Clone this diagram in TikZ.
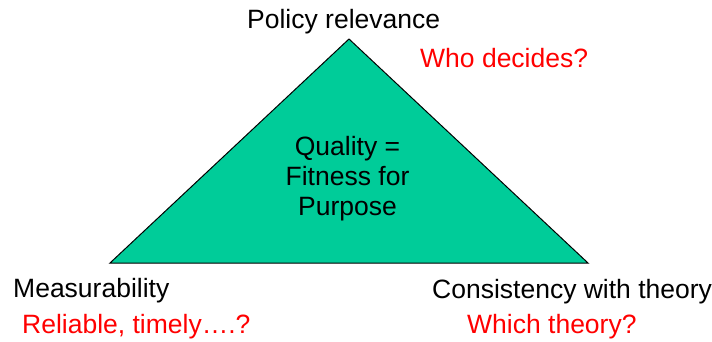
\documentclass[tikz,border=0pt]{standalone}
\usepackage{fontspec}
\setmainfont{Liberation Sans}
\definecolor{fitgreen}{RGB}{0,204,153}

\begin{document}
\begin{tikzpicture}
  [x=1pt,y=-1pt,every node/.style={inner sep=0pt,font=\fontsize{26.5}{30}\selectfont},
   label/.style={anchor=base west},
   question/.style={anchor=base west,text=red}]
  \useasboundingbox (0,0) rectangle (712,342);

  % triangle
  \coordinate (top) at (349,39);
  \coordinate (left) at (110,263);
  \coordinate (right) at (588,263);
  \draw[fill=fitgreen,line width=1pt] (top) -- (left) -- (right) -- cycle;

  \node[align=center,anchor=base] (quality) at (347.5,215) {Quality =\\Fitness for\\Purpose};

  \node[label] (policy) at (247,29) {Policy relevance};
  \node[question] (who) at (420,68) {Who decides?};
  \node[label] (measure) at (13,297) {Measurability};
  \node[question] (reliable) at (22,333) {Reliable, timely….?};
  \node[label] (consist) at (432,298) {Consistency with theory};
  \node[question] (which) at (467,333) {Which theory?};
\end{tikzpicture}
\end{document}
